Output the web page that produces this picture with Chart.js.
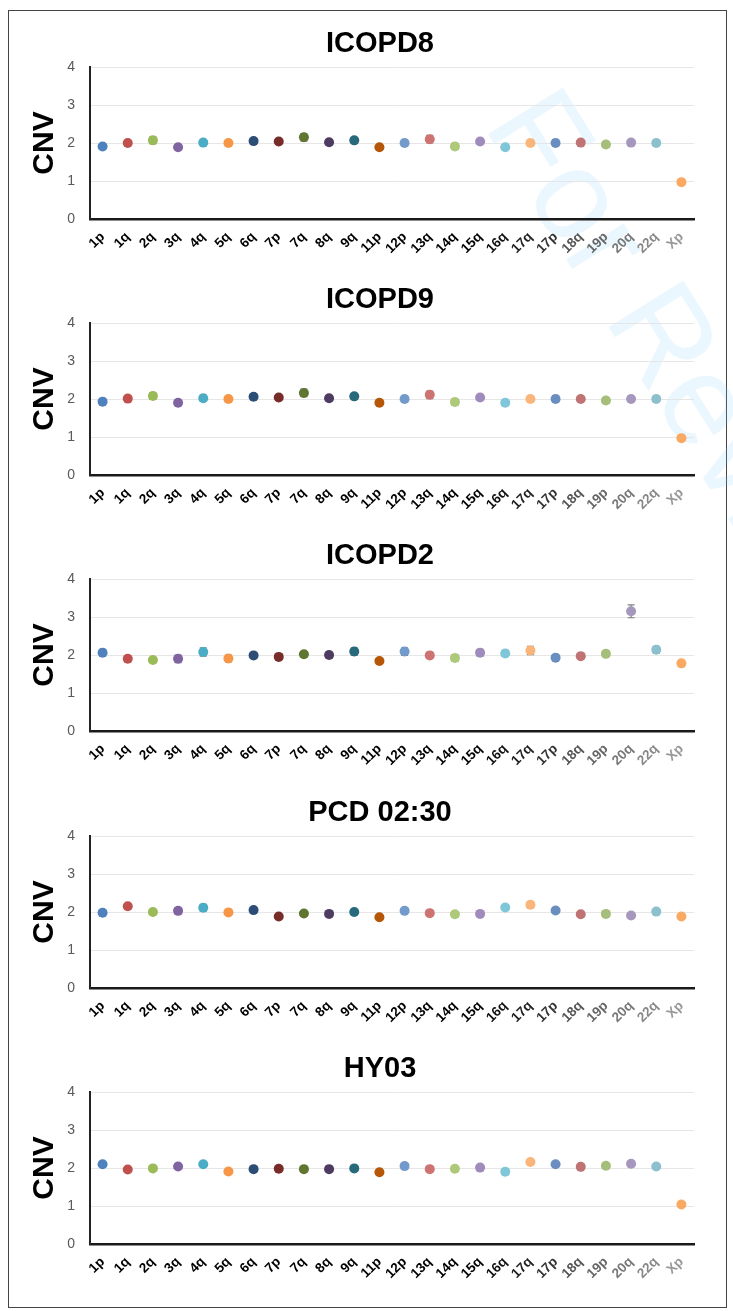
<!DOCTYPE html>
<html>
<head>
<meta charset="utf-8">
<script src="https://cdn.jsdelivr.net/npm/chart.js@4.4.0/dist/chart.umd.min.js"></script>
<style>
  html, body { margin:0; padding:0; background:#fff; }
  body { width:733px; height:1311px; overflow:hidden; position:relative; font-family:"Liberation Sans", Arial, sans-serif; }
  .frame { position:absolute; left:8px; top:10px; width:717px; height:1296px; border:1.5px solid #444; }
  .wm { position:absolute; left:574px; top:68px; font-family:"Liberation Sans", Arial, sans-serif; font-size:128px; line-height:1; white-space:nowrap; color:rgba(135,206,250,0.17); transform:rotate(58deg); transform-origin:0 0; pointer-events:none; }
  .panel { position:absolute; left:0; width:733px; height:256px; }
  .title { position:absolute; left:230px; width:300px; height:34px; line-height:34px; text-align:center; font-weight:bold; font-size:29px; color:#000; }
</style>
</head>
<body>
<div class="frame"></div>
<div class="wm">For Review</div>
<div id="root"></div>
<script>
// ---- data ----
const armLabels = ['1p','1q','2q','3q','4q','5q','6q','7p','7q','8q','9q','11p','12p','13q','14q','15q','16q','17q','17p','18q','19p','20q','22q','Xp'];
const panelTitles = ['ICOPD8','ICOPD9','ICOPD2','PCD 02:30','HY03'];
const yTickValues = [0,1,2,3,4];

const icopd8Cnv = [1.91,2.00,2.07,1.89,2.01,2.00,2.05,2.04,2.15,2.02,2.07,1.89,2.00,2.10,1.91,2.04,1.89,2.00,2.00,2.01,1.96,2.01,2.00,0.97];
const icopd8Err = [0.07,0.07,0.09,0.06,0.08,0.07,0.06,0.07,0.10,0.07,0.07,0.05,0.08,0.10,0.08,0.07,0.05,0.07,0.09,0.06,0.07,0.06,0.07,0.03];

const icopd9Cnv = [1.93,2.01,2.08,1.90,2.02,2.00,2.06,2.04,2.16,2.02,2.07,1.90,2.00,2.11,1.92,2.04,1.90,2.00,2.00,2.00,1.96,2.00,2.00,0.97];
const icopd9Err = [0.07,0.07,0.09,0.06,0.08,0.07,0.06,0.07,0.10,0.07,0.07,0.05,0.08,0.10,0.08,0.07,0.05,0.07,0.09,0.06,0.07,0.06,0.07,0.03];

const icopd2Cnv = [2.06,1.90,1.87,1.90,2.08,1.91,1.99,1.95,2.02,2.00,2.09,1.84,2.09,1.99,1.92,2.06,2.04,2.12,1.93,1.97,2.03,3.15,2.14,1.78];
const icopd2Err = [0.09,0.08,0.06,0.10,0.11,0.09,0.07,0.08,0.07,0.08,0.10,0.05,0.10,0.08,0.09,0.09,0.08,0.11,0.08,0.07,0.07,0.17,0.09,0.07];

const pcd0230Cnv = [1.98,2.15,2.00,2.03,2.11,1.99,2.05,1.88,1.96,1.95,2.00,1.86,2.03,1.97,1.94,1.95,2.12,2.19,2.04,1.94,1.95,1.91,2.01,1.88];
const pcd0230Err = [0.08,0.07,0.06,0.08,0.09,0.06,0.04,0.05,0.05,0.05,0.05,0.04,0.05,0.05,0.07,0.04,0.05,0.08,0.06,0.04,0.07,0.04,0.05,0.04];

const hy03Cnv = [2.10,1.96,1.99,2.04,2.10,1.91,1.97,1.98,1.97,1.97,1.99,1.89,2.05,1.97,1.98,2.01,1.90,2.16,2.10,2.03,2.06,2.11,2.04,1.04];
const hy03Err = [0.03,0.03,0.02,0.03,0.03,0.03,0.02,0.02,0.02,0.02,0.02,0.02,0.03,0.02,0.04,0.02,0.02,0.03,0.03,0.02,0.02,0.02,0.02,0.02];

// ---- styles ----
const pointColors = ['#4f81bd','#c0504d','#9bbb59','#8064a2','#4bacc6','#f79646','#2c4d75','#772c2a','#5f7530','#4d3b62','#276a7c','#b65708','#729aca','#cd7371','#afc97a','#a08cbc','#7fc6d8','#f9b57a','#6a8ebf','#bf7473','#a5be7a','#a597bd','#8cc0cf','#f9a961'];
const labelColors = ['#000','#000','#000','#000','#000','#000','#000','#000','#000','#000','#000','#000','#000','#000','#000','#000','#111','#222','#333','#555','#666','#777','#888','#999'];
const panelTops = [10, 266, 522, 779, 1035];

const panelValues = [icopd8Cnv, icopd9Cnv, icopd2Cnv, pcd0230Cnv, hy03Cnv];
const panelErrors = [icopd8Err, icopd9Err, icopd2Err, pcd0230Err, hy03Err];

const errorBarPlugin = {
  id: 'errorBars',
  beforeDatasetsDraw(chart) {
    const ctx = chart.ctx;
    const yScale = chart.scales.y;
    const ds = chart.data.datasets[0];
    const meta = chart.getDatasetMeta(0);
    ctx.save();
    ctx.strokeStyle = '#7f7f7f';
    ctx.lineWidth = 1.2;
    ds.data.forEach((v, i) => {
      const px = meta.data[i].x;
      const e = ds.errors[i];
      const top = yScale.getPixelForValue(v + e);
      const bot = yScale.getPixelForValue(v - e);
      ctx.beginPath();
      ctx.moveTo(px, top); ctx.lineTo(px, bot);
      ctx.moveTo(px - 3.5, top); ctx.lineTo(px + 3.5, top);
      ctx.moveTo(px - 3.5, bot); ctx.lineTo(px + 3.5, bot);
      ctx.stroke();
    });
    ctx.restore();
  }
};

const root = document.getElementById('root');
panelTitles.forEach((title, p) => {
  const wrap = document.createElement('div');
  wrap.className = 'panel';
  wrap.style.top = panelTops[p] + 'px';
  const t = document.createElement('div');
  t.className = 'title';
  t.style.left = (380 - 150) + 'px';
  t.style.top = (57 - 25 - 17) + 'px';
  t.textContent = title;
  const canvas = document.createElement('canvas');
  canvas.width = 733; canvas.height = 256;
  canvas.style.position = 'absolute'; canvas.style.left = '0'; canvas.style.top = '0';
  wrap.appendChild(canvas);
  wrap.appendChild(t);
  root.appendChild(wrap);

  new Chart(canvas, {
    type: 'line',
    data: {
      labels: armLabels,
      datasets: [{
        data: panelValues[p],
        errors: panelErrors[p],
        showLine: false,
        pointRadius: 5,
        pointHoverRadius: 5,
        pointBackgroundColor: pointColors,
        pointBorderWidth: 0,
        borderColor: 'transparent'
      }]
    },
    options: {
      responsive: false,
      animation: false,
      devicePixelRatio: 1,
      layout: { padding: { top: 57, right: 39, bottom: 0, left: 0 } },
      plugins: { legend: { display: false }, tooltip: { enabled: false }, title: { display: false } },
      scales: {
        x: {
          type: 'category',
          offset: true,
          grid: { display: false, drawTicks: false },
          border: { color: '#1a1a1a', width: 2.5 },
          ticks: {
            autoSkip: false, maxRotation: 45, minRotation: 45, padding: 10,
            font: { family: '"Liberation Sans", Arial, sans-serif', weight: 'bold', size: 13.5 },
            color: (c) => labelColors[c.index]
          },
          afterFit: (s) => { s.height = 47; }
        },
        y: {
          min: yTickValues[0], max: yTickValues[yTickValues.length - 1],
          afterBuildTicks: (s) => { s.ticks = yTickValues.map(v => ({ value: v })); },
          grid: { color: '#e6e6e6', lineWidth: 1, drawTicks: false },
          border: { color: '#222', width: 2 },
          ticks: { padding: 15, color: '#595959', font: { family: '"Liberation Sans", Arial, sans-serif', size: 14 } },
          title: { display: true, text: 'CNV', color: '#000', font: { family: '"Liberation Sans", Arial, sans-serif', size: 30, weight: 'bold' }, padding: { top: 27, bottom: 0 } },
          afterFit: (s) => { s.width = 90; }
        }
      }
    },
    plugins: [errorBarPlugin]
  });
});
</script>
</body>
</html>
